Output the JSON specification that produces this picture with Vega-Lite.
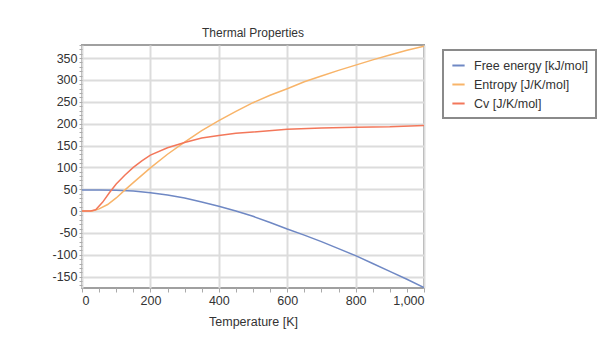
{
  "$schema": "https://vega.github.io/schema/vega-lite/v6.json",
  "autosize": {"type": "none"},
  "padding": {"left": 82, "top": 45, "right": 187, "bottom": 50},
  "width": 342,
  "height": 243,
  "background": "white",
  "title": {"text": "Thermal Properties", "fontSize": 12, "fontWeight": "normal", "font": "Liberation Sans", "color": "#333333", "offset": -1, "anchor": "middle"},
  "config": {
    "view": {"stroke": "#a0a0a0", "strokeWidth": 2},
    "axis": {"labelFont": "Liberation Sans", "titleFont": "Liberation Sans", "labelFontSize": 12.5, "titleFontSize": 12.5, "titleFontWeight": "normal", "labelColor": "#333333", "titleColor": "#333333", "gridColor": "#dcdcdc", "gridWidth": 2, "domain": false, "tickColor": "#aaaaaa", "labelOverlap": false}
  },
  "data": {"values": [
    {"T": 0, "series": "Free energy [kJ/mol]", "v": 48},
    {"T": 50, "series": "Free energy [kJ/mol]", "v": 48},
    {"T": 100, "series": "Free energy [kJ/mol]", "v": 47.5},
    {"T": 150, "series": "Free energy [kJ/mol]", "v": 46},
    {"T": 200, "series": "Free energy [kJ/mol]", "v": 42},
    {"T": 250, "series": "Free energy [kJ/mol]", "v": 37},
    {"T": 300, "series": "Free energy [kJ/mol]", "v": 30},
    {"T": 350, "series": "Free energy [kJ/mol]", "v": 21},
    {"T": 400, "series": "Free energy [kJ/mol]", "v": 11},
    {"T": 450, "series": "Free energy [kJ/mol]", "v": 0},
    {"T": 500, "series": "Free energy [kJ/mol]", "v": -12},
    {"T": 550, "series": "Free energy [kJ/mol]", "v": -26},
    {"T": 600, "series": "Free energy [kJ/mol]", "v": -41},
    {"T": 650, "series": "Free energy [kJ/mol]", "v": -55},
    {"T": 700, "series": "Free energy [kJ/mol]", "v": -70},
    {"T": 750, "series": "Free energy [kJ/mol]", "v": -86},
    {"T": 800, "series": "Free energy [kJ/mol]", "v": -102},
    {"T": 850, "series": "Free energy [kJ/mol]", "v": -120},
    {"T": 900, "series": "Free energy [kJ/mol]", "v": -138},
    {"T": 950, "series": "Free energy [kJ/mol]", "v": -156},
    {"T": 1000, "series": "Free energy [kJ/mol]", "v": -175},
    {"T": 0, "series": "Entropy [J/K/mol]", "v": 0},
    {"T": 30, "series": "Entropy [J/K/mol]", "v": 0},
    {"T": 50, "series": "Entropy [J/K/mol]", "v": 5},
    {"T": 75, "series": "Entropy [J/K/mol]", "v": 15},
    {"T": 100, "series": "Entropy [J/K/mol]", "v": 30},
    {"T": 125, "series": "Entropy [J/K/mol]", "v": 48},
    {"T": 150, "series": "Entropy [J/K/mol]", "v": 65},
    {"T": 200, "series": "Entropy [J/K/mol]", "v": 99},
    {"T": 250, "series": "Entropy [J/K/mol]", "v": 130},
    {"T": 300, "series": "Entropy [J/K/mol]", "v": 158},
    {"T": 350, "series": "Entropy [J/K/mol]", "v": 184},
    {"T": 400, "series": "Entropy [J/K/mol]", "v": 207},
    {"T": 450, "series": "Entropy [J/K/mol]", "v": 228},
    {"T": 500, "series": "Entropy [J/K/mol]", "v": 248},
    {"T": 550, "series": "Entropy [J/K/mol]", "v": 265},
    {"T": 600, "series": "Entropy [J/K/mol]", "v": 280},
    {"T": 650, "series": "Entropy [J/K/mol]", "v": 296},
    {"T": 700, "series": "Entropy [J/K/mol]", "v": 309},
    {"T": 750, "series": "Entropy [J/K/mol]", "v": 322},
    {"T": 800, "series": "Entropy [J/K/mol]", "v": 334},
    {"T": 850, "series": "Entropy [J/K/mol]", "v": 346},
    {"T": 900, "series": "Entropy [J/K/mol]", "v": 357},
    {"T": 950, "series": "Entropy [J/K/mol]", "v": 368},
    {"T": 1000, "series": "Entropy [J/K/mol]", "v": 377},
    {"T": 0, "series": "Cv [J/K/mol]", "v": 0},
    {"T": 25, "series": "Cv [J/K/mol]", "v": 0},
    {"T": 40, "series": "Cv [J/K/mol]", "v": 3},
    {"T": 60, "series": "Cv [J/K/mol]", "v": 20},
    {"T": 80, "series": "Cv [J/K/mol]", "v": 42},
    {"T": 100, "series": "Cv [J/K/mol]", "v": 62},
    {"T": 125, "series": "Cv [J/K/mol]", "v": 82},
    {"T": 150, "series": "Cv [J/K/mol]", "v": 100},
    {"T": 175, "series": "Cv [J/K/mol]", "v": 115},
    {"T": 200, "series": "Cv [J/K/mol]", "v": 128},
    {"T": 250, "series": "Cv [J/K/mol]", "v": 145},
    {"T": 300, "series": "Cv [J/K/mol]", "v": 157},
    {"T": 350, "series": "Cv [J/K/mol]", "v": 167},
    {"T": 400, "series": "Cv [J/K/mol]", "v": 173},
    {"T": 450, "series": "Cv [J/K/mol]", "v": 178},
    {"T": 500, "series": "Cv [J/K/mol]", "v": 181},
    {"T": 600, "series": "Cv [J/K/mol]", "v": 187},
    {"T": 700, "series": "Cv [J/K/mol]", "v": 190},
    {"T": 800, "series": "Cv [J/K/mol]", "v": 192},
    {"T": 900, "series": "Cv [J/K/mol]", "v": 193},
    {"T": 1000, "series": "Cv [J/K/mol]", "v": 196}
  ]},
  "mark": {"type": "line", "strokeWidth": 1.5, "clip": true},
  "encoding": {
    "x": {"field": "T", "type": "quantitative", "title": "Temperature [K]",
          "scale": {"domain": [0, 1000], "nice": false},
          "axis": {"values": [0, 50, 100, 150, 200, 250, 300, 350, 400, 450, 500, 550, 600, 650, 700, 750, 800, 850, 900, 950, 1000],
                   "format": ",d", "labelExpr": "datum.value % 200 === 0 ? datum.label : ''",
                   "gridColor": {"condition": {"test": "datum.value % 200 === 0", "value": "#dcdcdc"}, "value": "transparent"},
                   "titlePadding": 9, "tickSize": 4, "labelPadding": 2}},
    "y": {"field": "v", "type": "quantitative", "title": null,
          "scale": {"domain": [-176, 380], "nice": false, "zero": false},
          "axis": {"values": [-170, -160, -150, -140, -130, -120, -110, -100, -90, -80, -70, -60, -50, -40, -30, -20, -10, 0, 10, 20, 30, 40, 50, 60, 70, 80, 90, 100, 110, 120, 130, 140, 150, 160, 170, 180, 190, 200, 210, 220, 230, 240, 250, 260, 270, 280, 290, 300, 310, 320, 330, 340, 350, 360, 370, 380],
                   "labelExpr": "datum.value % 50 === 0 ? replace(datum.label, '\u2212', '-') : ''",
                   "gridColor": {"condition": {"test": "datum.value % 50 === 0", "value": "#dcdcdc"}, "value": "transparent"},
                   "tickSize": 3, "labelPadding": 2}},
    "color": {"field": "series", "type": "nominal",
              "sort": ["Free energy [kJ/mol]", "Entropy [J/K/mol]", "Cv [J/K/mol]"],
              "scale": {"domain": ["Free energy [kJ/mol]", "Entropy [J/K/mol]", "Cv [J/K/mol]"], "range": ["#6f88c4", "#f8b469", "#f3775a"]},
              "legend": {"title": null, "orient": "none", "legendX": 361, "legendY": 5,
                         "strokeColor": "#8a8a8a", "fillColor": "white",
                         "labelFont": "Liberation Sans", "labelFontSize": 12.5, "labelColor": "#333333",
                         "padding": 8, "symbolType": "stroke", "symbolSize": 150, "symbolStrokeWidth": 2,
                         "rowPadding": 5, "labelOffset": 8, "labelLimit": 200,
                         "encode": {"legend": {"update": {"strokeWidth": {"value": 2}}}}}}
  }
}
